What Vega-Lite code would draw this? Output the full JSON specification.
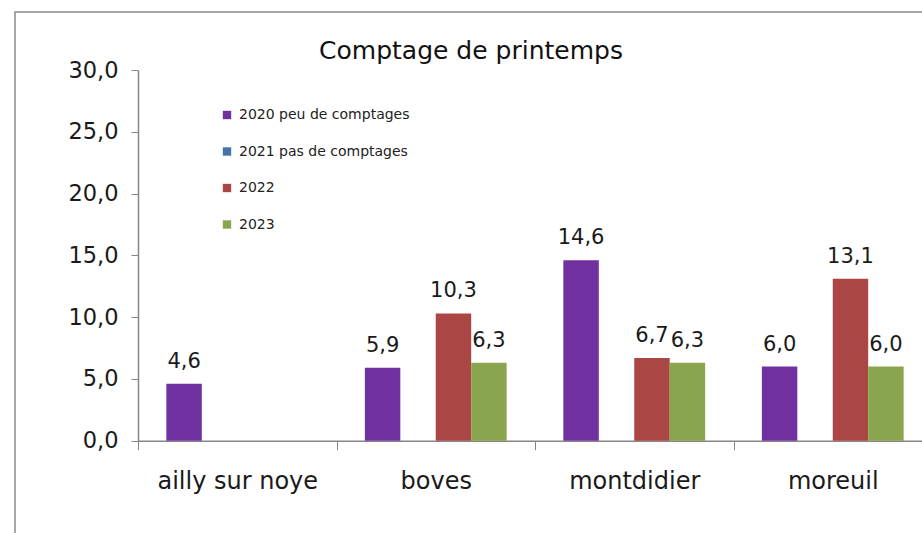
{
  "$schema": "https://vega.github.io/schema/vega-lite/v6.json",
  "autosize": "none",
  "width": 912,
  "height": 526,
  "padding": {"left": 15, "top": 12, "right": -5, "bottom": -5},
  "background": "white",
  "title": {
    "text": "Comptage de printemps",
    "font": "DejaVu Sans",
    "fontSize": 25,
    "fontWeight": "normal",
    "color": "#111",
    "anchor": "middle",
    "offset": -52
  },
  "data": {
    "values": [
      {"site": "ailly sur noye", "serie": "2020 peu de comptages", "valeur": 4.6},
      {"site": "boves", "serie": "2020 peu de comptages", "valeur": 5.9},
      {"site": "boves", "serie": "2022", "valeur": 10.3},
      {"site": "boves", "serie": "2023", "valeur": 6.3},
      {"site": "montdidier", "serie": "2020 peu de comptages", "valeur": 14.6},
      {"site": "montdidier", "serie": "2022", "valeur": 6.7},
      {"site": "montdidier", "serie": "2023", "valeur": 6.3},
      {"site": "moreuil", "serie": "2020 peu de comptages", "valeur": 6.0},
      {"site": "moreuil", "serie": "2022", "valeur": 13.1},
      {"site": "moreuil", "serie": "2023", "valeur": 6.0}
    ]
  },
  "encoding": {
    "x": {
      "field": "site",
      "type": "nominal",
      "sort": null,
      "scale": {"range": [123, 917], "paddingInner": 0, "paddingOuter": 0},
      "axis": {
        "title": null,
        "orient": "bottom",
        "offset": -97.3,
        "labelAngle": 0,
        "tickBand": "extent",
        "tickSize": 9,
        "tickColor": "#868686",
        "domainColor": "#868686",
        "domainWidth": 1.5,
        "labelPadding": 20,
        "labelFont": "DejaVu Sans",
        "labelFontSize": 24,
        "labelColor": "#1a1a1a"
      }
    },
    "xOffset": {
      "field": "serie",
      "type": "nominal",
      "scale": {
        "domain": ["2020 peu de comptages", "2021 pas de comptages", "2022", "2023"],
        "paddingInner": 0,
        "paddingOuter": 0.8
      }
    },
    "y": {
      "field": "valeur",
      "type": "quantitative",
      "scale": {"domain": [0, 30], "range": [428.7, 58], "nice": false, "zero": true},
      "axis": {
        "title": null,
        "offset": -123,
        "values": [0, 5, 10, 15, 20, 25, 30],
        "format": ".1f",
        "grid": false,
        "tickSize": 7,
        "tickColor": "#868686",
        "domainColor": "#868686",
        "domainWidth": 1.5,
        "labelPadding": 13,
        "labelFont": "DejaVu Sans",
        "labelFontSize": 22.5,
        "labelColor": "#1a1a1a"
      }
    }
  },
  "layer": [
    {
      "mark": {"type": "bar"},
      "encoding": {
        "color": {
          "field": "serie",
          "type": "nominal",
          "scale": {
            "domain": ["2020 peu de comptages", "2021 pas de comptages", "2022", "2023"],
            "range": ["#7030A0", "#4572A7", "#AA4643", "#89A54E"]
          },
          "legend": {
            "title": null,
            "orient": "none",
            "legendX": 205,
            "legendY": 96,
            "padding": 0,
            "symbolType": "square",
            "symbolSize": 70,
            "symbolStrokeWidth": 0,
            "rowPadding": 22.5,
            "labelFont": "DejaVu Sans",
            "labelFontSize": 14,
            "labelLimit": 400,
            "labelColor": "#222",
            "labelOffset": 5
          }
        }
      }
    },
    {
      "mark": {
        "type": "text",
        "baseline": "alphabetic",
        "dy": -16,
        "font": "DejaVu Sans",
        "fontSize": 21,
        "color": "#1a1a1a"
      },
      "encoding": {
        "text": {"field": "valeur", "type": "quantitative", "format": ".1f"}
      }
    }
  ],
  "config": {
    "locale": {
      "number": {"decimal": ",", "thousands": " ", "grouping": [3], "currency": ["", " €"]}
    },
    "view": {"stroke": "#8a8a8a", "strokeWidth": 1.5}
  }
}
